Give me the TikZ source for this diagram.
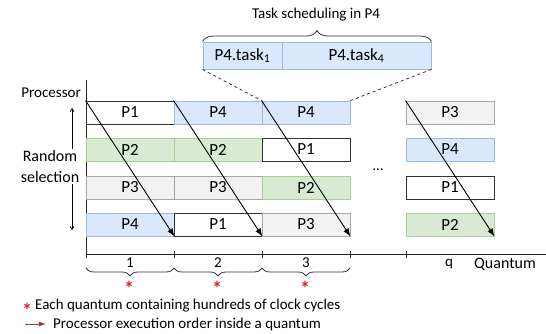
\documentclass[tikz,border=0pt]{standalone}
\usepackage{fontspec}
\setmainfont{Carlito}
\usetikzlibrary{decorations.pathreplacing,arrows.meta}
\definecolor{blueF}{HTML}{DAE8FC}
\definecolor{blueD}{HTML}{9DB9E0}
\definecolor{greenF}{HTML}{D9EAD3}
\definecolor{greenD}{HTML}{A9CF98}
\definecolor{grayF}{HTML}{F2F2F2}
\definecolor{grayD}{HTML}{A6A6A6}
\definecolor{whiteD}{HTML}{333333}
\definecolor{legArrow}{HTML}{9A3B33}
\definecolor{starRed}{HTML}{E02020}
\begin{document}
\begin{tikzpicture}[x=1pt,y=-1pt,
  font=\fontsize{15}{17}\selectfont,
  pbox/.style={minimum width=88pt,minimum height=23pt,inner sep=0pt,line width=0.9pt,font=\fontsize{17}{19}\selectfont},
  pblue/.style={pbox,fill=blueF,draw=blueD},
  pgreen/.style={pbox,fill=greenF,draw=greenD},
  pgray/.style={pbox,fill=grayF,draw=grayD},
  pwhite/.style={pbox,fill=white,draw=whiteD,line width=0.9pt},
  order/.style={-{Latex[length=8pt,width=6pt]},line width=0.9pt,black},
  axis/.style={line width=0.9pt,black!85},
  qbrace/.style={decorate,decoration={brace,mirror,amplitude=8pt},line width=0.8pt,black!80},
  star/.style={text=starRed,inner sep=0pt,anchor=base,font=\fontsize{20}{22}\selectfont\bfseries},
  lbl/.style={inner sep=0pt}
]
\useasboundingbox (0,0) rectangle (546,334);

% axes
\coordinate (ytop) at (86,80);
\coordinate (orig) at (86,254);
\coordinate (xend) at (546,254);
\draw[axis] (ytop) -- (orig) -- (xend);
\foreach \x in {86,174,262,350,406} \draw[axis] (\x,250.5) -- (\x,257.5);

% column 1
\node[pwhite] (a1) at (130,112.5) {P1};
\node[pgreen] (a2) at (130,149.5) {P2};
\node[pgray]  (a3) at (130,187.5) {P3};
\node[pblue]  (a4) at (130,224.5) {P4};
% column 2
\node[pblue]  (b1) at (218,112.5) {P4};
\node[pgreen] (b2) at (218,149.5) {P2};
\node[pgray]  (b3) at (218,187.5) {P3};
\node[pwhite] (b4) at (218,224.5) {P1};
% column 3
\node[pblue]  (c1) at (306,112.5) {P4};
\node[pwhite] (c2) at (306,149.5) {P1};
\node[pgreen] (c3) at (306,187.5) {P2};
\node[pgray]  (c4) at (306,224.5) {P3};
% column q
\node[pgray]  (q1) at (450,112.5) {P3};
\node[pblue]  (q2) at (450,149.5) {P4};
\node[pwhite] (q3) at (450,187.5) {P1};
\node[pgreen] (q4) at (450,224.5) {P2};

\node[lbl] (dots) at (378,170) {\dots};

% execution order arrows
\draw[order] (a1.north west) -- (a4.south east);
\draw[order] (b1.north west) -- (b4.south east);
\draw[order] (c1.north west) -- (c4.south east);
\draw[order] (q1.north west) -- (q4.south east);

% labels on the left
\node[lbl,anchor=east] (proc) at (81,93) {Processor};
\coordinate (rtop) at (72,108);
\coordinate (rbot) at (72,230);
\draw[{Straight Barb[length=3pt,width=4pt]}-{Straight Barb[length=3pt,width=4pt]},line width=0.7pt] (rtop) -- (rbot);
\node[lbl,fill=white,align=center,inner sep=1pt,font=\fontsize{16}{21}\selectfont] (rand) at (50,166.5) {Random\\selection};

% task scheduling zoom
\node[pblue,minimum width=79pt,minimum height=27pt] (t1) at (242.5,55.5) {P4.task\textsubscript{1}};
\node[pblue,minimum width=149pt,minimum height=27pt] (t4) at (356.5,55.5) {P4.task\textsubscript{4}};
\draw[decorate,decoration={brace,amplitude=11pt},line width=0.8pt,black!80] (t1.north west) -- (t4.north east);
\node[lbl] (tsch) at (316,15) {Task scheduling in P4};
\draw[dashed,line width=0.8pt,black!80] (t1.south west) -- (c1.north west);
\draw[dashed,line width=0.8pt,black!80] (t4.south east) -- (c1.north east);

% quantum braces and labels
\draw[qbrace] (86,268) -- (174,268);
\draw[qbrace] (174,268) -- (262,268);
\draw[qbrace] (262,268) -- (350,268);
\node[lbl] (n1) at (130,263) {1};
\node[lbl] (n2) at (218,263) {2};
\node[lbl] (n3) at (306,263) {3};
\node[lbl] (nq) at (449,264) {q};
\node[lbl,anchor=west,font=\fontsize{16}{18}\selectfont] (quant) at (474,264) {Quantum};
\node[star] (s1) at (129,295) {\smash{*}};
\node[star] (s2) at (217,295) {\smash{*}};
\node[star] (s3) at (305,295) {\smash{*}};

% legend
\node[star] (ls) at (27,317) {\smash{*}};
\node[lbl,anchor=west] (leg1) at (35,306) {Each quantum containing hundreds of clock cycles};
\coordinate (la) at (25,324);
\coordinate (lb) at (46,324);
\draw[-{Latex[length=7pt,width=5pt]},line width=0.9pt,legArrow] (la) -- (lb);
\node[lbl,anchor=west] (leg2) at (53,324) {Processor execution order inside a quantum};
\end{tikzpicture}
\end{document}
